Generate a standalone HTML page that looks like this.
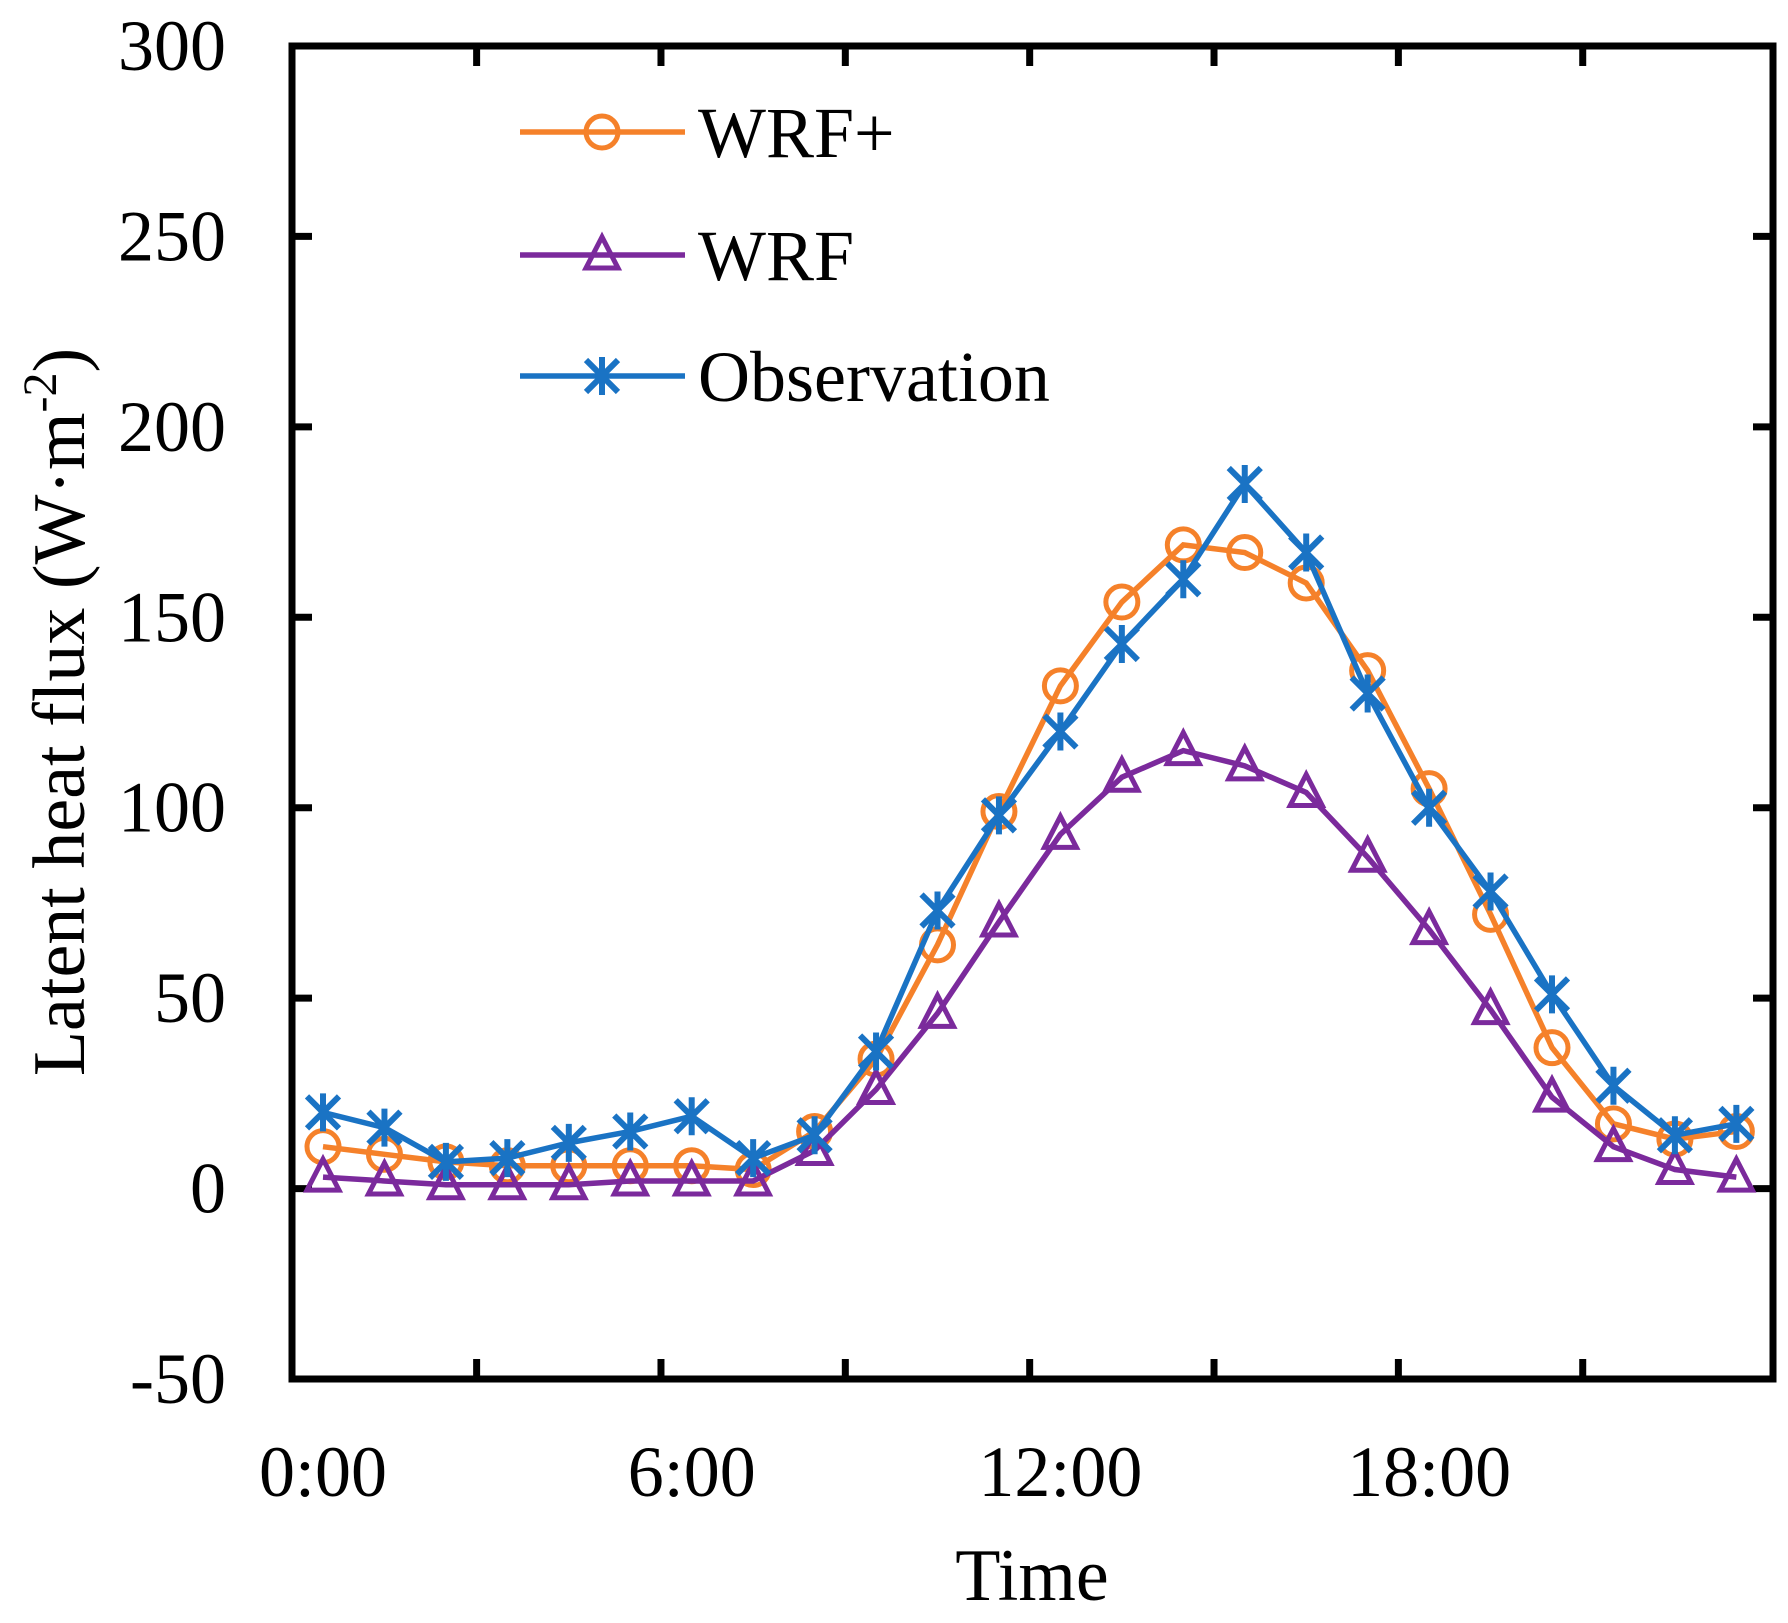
<!DOCTYPE html>
<html><head><meta charset="utf-8"><style>
body{margin:0;background:#fff}
text{font-family:"Liberation Serif",serif;fill:#000}
</style></head><body>
<svg id="c" width="1788" height="1618" xmlns="http://www.w3.org/2000/svg"></svg>
<script>
const hours=[0,1,2,3,4,5,6,7,8,9,10,11,12,13,14,15,16,17,18,19,20,21,22,23];
const obs=[20,16,7,8,12,15,19,8,14,36,73,98,120,143,160,185,167,130,100,78,51,27,14,17];
const wrfPlus=[11,9,7,6,6,6,6,5,15,34,64,99,132,154,169,167,159,136,105,72,37,17,13,15];
const wrf=[3,2,1,1,1,2,2,2,10,26,46,70,93,108,115,111,104,87,68,47,24,11,5,3];
const yTicks=[-50,0,50,100,150,200,250,300];
const xLabels=[[0,"0:00"],[6,"6:00"],[12,"12:00"],[18,"18:00"]];
const xTickHours=[2.5,5.5,8.5,11.5,14.5,17.5,20.5];
const L=292,R=1773,T=46,B=1379;
const X=h=>323+61.45*h;
const Y=v=>B-(v+50)/350*(B-T);
const svg=document.getElementById('c');const NS="http://www.w3.org/2000/svg";
function el(t,a,p){const e=document.createElementNS(NS,t);for(const k in a)e.setAttribute(k,a[k]);(p||svg).appendChild(e);return e;}
const frame=el('rect',{x:L,y:T,width:R-L,height:B-T,fill:'none',stroke:'#000','stroke-width':7});


yTicks.forEach(v=>{const y=Y(v);
 el('line',{x1:L,x2:L+20,y1:y,y2:y,stroke:'#000','stroke-width':7});
 el('line',{x1:R-20,x2:R,y1:y,y2:y,stroke:'#000','stroke-width':7});
 const t=el('text',{x:L-66,y:y+24,'font-size':72,'text-anchor':'end'});t.textContent=v;
 
 });
xTickHours.forEach(h=>{const x=X(h);
 el('line',{x1:x,x2:x,y1:B,y2:B-20,stroke:'#000','stroke-width':7});
 el('line',{x1:x,x2:x,y1:T,y2:T+20,stroke:'#000','stroke-width':7});});
xLabels.forEach(([h,s])=>{const t=el('text',{x:X(h),y:B+117,'font-size':72,'text-anchor':'middle'});t.textContent=s;
 
 });
const xt=el('text',{x:1032,y:1600,'font-size':74,'text-anchor':'middle'});xt.textContent='Time';


const yt=el('text',{transform:'translate(84,712) rotate(-90)','font-size':74,'text-anchor':'middle'});
yt.innerHTML='Latent heat flux (W·m<tspan dy="-28" font-size="48">-2</tspan><tspan dy="28">)</tspan>';


function marker(g,type,x,y,c){
 if(type==='o')el('circle',{cx:x,cy:y,r:16,fill:'none',stroke:c,'stroke-width':5},g);
 else if(type==='t')el('polygon',{points:`${x},${y-18} ${x-16},${y+13} ${x+16},${y+13}`,fill:'none',stroke:c,'stroke-width':5},g);
 else{const d=16;el('path',{d:`M${x-d} ${y-d}L${x+d} ${y+d}M${x-d} ${y+d}L${x+d} ${y-d}M${x} ${y-d-3}L${x} ${y+d+3}`,stroke:c,'stroke-width':6,fill:'none'},g);}
}
const series=[[wrfPlus,'#f5812a','o','wrf-plus-series'],[wrf,'#7b2a9c','t','wrf-series'],[obs,'#1a73c4','x','observation-series']];
series.forEach(([d,c,m,n])=>{const g=el('g',{});
 
 
 el('polyline',{points:hours.map((h,i)=>X(h)+','+Y(d[i])).join(' '),fill:'none',stroke:c,'stroke-width':5.5},g);
 hours.forEach((h,i)=>marker(g,m,X(h),Y(d[i]),c));});
const leg=[['WRF+','#f5812a','o',132],['WRF','#7b2a9c','t',255],['Observation','#1a73c4','x',376]];
leg.forEach(([s,c,m,y])=>{const g=el('g',{});
 
 
 el('line',{x1:520,x2:685,y1:y,y2:y,stroke:c,'stroke-width':5.5},g);
 marker(g,m,602,y,c);
 const t=el('text',{x:698,y:y+25,'font-size':72},g);t.textContent=s;});
</script>
</body></html>
